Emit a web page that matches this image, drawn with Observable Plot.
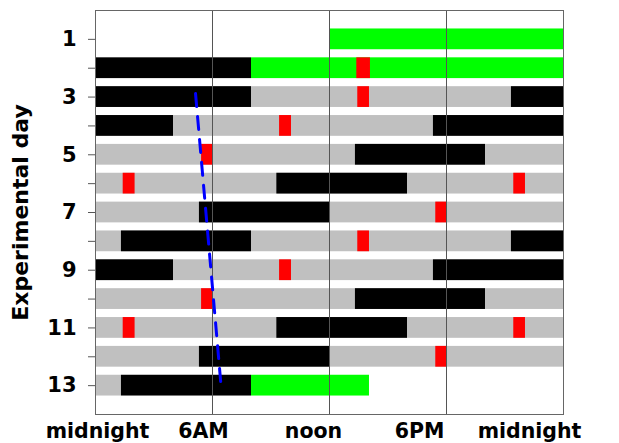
<!DOCTYPE html>
<html>
<head>
<meta charset="utf-8">
<script src="https://cdn.jsdelivr.net/npm/d3@7"></script>
<script src="https://cdn.jsdelivr.net/npm/@observablehq/plot@0.6"></script>
<style>
  html, body { margin: 0; padding: 0; background: white; }
</style>
</head>
<body>
<div id="chart"></div>
<script>
// ---- data (hours of day, 0 = midnight, 24 = next midnight) ----
const days = [1,2,3,4,5,6,7,8,9,10,11,12,13];
const timeTicks = [0, 6, 12, 18, 24];
const timeLabels = ["midnight", "6AM", "noon", "6PM", "midnight"];

// [day, start hour, end hour]
const graySegs = [
  [3, 0, 24], [4, 0, 24], [5, 0, 24], [6, 0, 24], [7, 0, 24],
  [8, 0, 24], [9, 0, 24], [10, 0, 24], [11, 0, 24], [12, 0, 24],
  [13, 0, 1.33]
];
const blackSegs = [
  [2, 0, 8],
  [3, 0, 8], [3, 21.33, 24],
  [4, 0, 4], [4, 17.33, 24],
  [5, 13.33, 20],
  [6, 9.3, 16],
  [7, 5.33, 12],
  [8, 1.33, 8], [8, 21.33, 24],
  [9, 0, 4], [9, 17.33, 24],
  [10, 13.33, 20],
  [11, 9.3, 16],
  [12, 5.33, 12],
  [13, 1.33, 8]
];
const greenSegs = [
  [1, 12, 24],
  [2, 8, 24],
  [13, 8, 14.05]
];
const redSegs = [
  [2, 13.4, 14.1],
  [3, 13.45, 14.05],
  [4, 9.44, 10.05],
  [5, 5.44, 6.02],
  [6, 1.42, 2.03], [6, 21.45, 22.05],
  [7, 17.45, 18.03],
  [8, 13.45, 14.05],
  [9, 9.44, 10.05],
  [10, 5.44, 6.02],
  [11, 1.42, 2.03], [11, 21.45, 22.05],
  [12, 17.45, 18.03]
];
// blue dashed trend line: [hour, day]
const trendLine = [[5.13, 2.88], [6.45, 13.09]];

// ---- drawing ----
const half = 0.36;
const segRect = (data, fill) => Plot.rect(data, {
  x1: d => d[1], x2: d => d[2],
  y1: d => d[0] - half, y2: d => d[0] + half,
  fill
});
const labelShift = [2, -9, -16, -27, -34];

const chart = Plot.plot({
  width: 619,
  height: 443,
  marginLeft: 95,
  marginRight: 56,
  marginTop: 10,
  marginBottom: 29,
  x: { domain: [0, 24] },
  y: { domain: [0, 14], reverse: true },
  style: { fontFamily: "'DejaVu Sans', sans-serif", fontWeight: "bold", fontSize: "20px", background: "white", color: "black" },
  marks: [
    segRect(graySegs, "#c0c0c0"),
    segRect(blackSegs, "#000000"),
    segRect(greenSegs, "#00ff00"),
    segRect(redSegs, "#ff0000"),
    Plot.ruleX([6, 12, 18], { stroke: "#555", strokeWidth: 1 }),
    Plot.line(trendLine, { x: d => d[0], y: d => d[1], stroke: "#0000ff", strokeWidth: 3, strokeDasharray: "13,10" }),
    Plot.frame({ stroke: "#666", strokeWidth: 1 }),
    Plot.axisY({
      ticks: days,
      tickFormat: d => (d % 2 ? String(d) : ""),
      tickSize: 7,
      tickPadding: 12,
      fontSize: 21,
      label: null,
      stroke: "#555"
    }),
    Plot.axisY({
      ticks: [],
      tickSize: 0,
      fontSize: 22,
      label: "Experimental day",
      labelAnchor: "center",
      labelOffset: 83,
      labelArrow: "none"
    }),
    ...timeTicks.map((t, i) => Plot.axisX({
      ticks: [t],
      tickFormat: () => timeLabels[i],
      tickSize: 0,
      tickPadding: 9,
      fontSize: 20.5,
      label: null,
      dx: labelShift[i]
    }))
  ]
});
document.getElementById("chart").appendChild(chart);
</script>
</body>
</html>
